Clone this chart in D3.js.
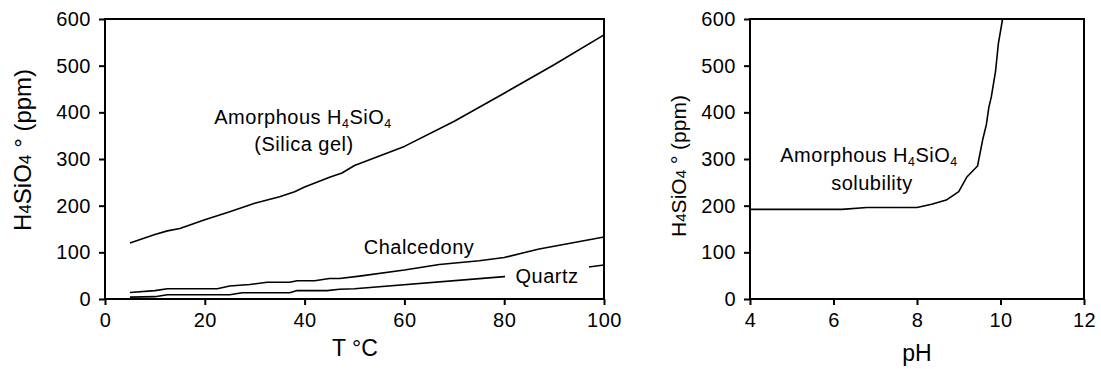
<!DOCTYPE html>
<html>
<head>
<meta charset="utf-8">
<script src="https://cdn.jsdelivr.net/npm/d3@7"></script>
<style>
  body { margin: 0; background: #fff; }
  text { font-family: "Liberation Sans", Arial, sans-serif; fill: #000; }
</style>
</head>
<body>
<script>
// Left panel: solubility vs temperature
var amorphT = [5, 10, 12.5, 15, 20, 25, 30, 35, 38, 40, 45, 47.5, 50, 60, 70, 80, 90, 100];
var amorphV = [120, 138, 146, 151, 170, 187, 205, 219, 230, 240, 261, 270, 286, 327, 381, 441, 502, 566];
var chalcT = [5, 10, 12.5, 22.5, 25, 29, 32.5, 37, 38.5, 42, 45, 47, 51, 60, 67, 75, 80, 87, 100];
var chalcV = [14, 18, 22, 22, 28, 31, 36, 36, 39, 39, 44, 44, 49, 62, 74, 82, 89, 107, 133];
var quartzT = [5, 10, 12.5, 25, 27.5, 37, 38.5, 44.5, 47, 50, 80, 90, 100];
var quartzV = [4, 5, 9, 9, 13.5, 13.5, 18, 18, 21, 22, 48, 59, 73];

// Right panel: amorphous silica solubility vs pH
var pH = [4, 6.2, 6.8, 8, 8.35, 8.7, 9, 9.2, 9.45, 9.58, 9.66, 9.72, 9.78, 9.88, 9.95, 10.05];
var silicaV = [192, 192, 196, 196, 203, 212, 230, 262, 285, 344, 373, 410, 433, 487, 548, 600];

var tempTicks = [0, 20, 40, 60, 80, 100];
var pHTicks = [4, 6, 8, 10, 12];
var ppmTicks = [0, 100, 200, 300, 400, 500, 600];

var W = 1101, H = 369;
var svg = d3.select("body").append("svg").attr("width", W).attr("height", H);

var y = d3.scaleLinear().domain([0, 600]).range([299, 19]);
var xT = d3.scaleLinear().domain([0, 100]).range([105, 604]);
var xP = d3.scaleLinear().domain([4, 12]).range([750, 1084]);

// draws frame + axes for one panel
function panel(x, xticks) {
    var g = svg.append("g");
    var r = x.range();
    g.append("g")
        .attr("transform", "translate(0,299)")
        .call(d3.axisBottom(x).tickValues(xticks).tickSize(6).tickSizeOuter(0).tickPadding(8))
        .call(function(a) { a.select(".domain").remove(); });
    g.append("g")
        .attr("transform", "translate(" + r[0] + ",0)")
        .call(d3.axisLeft(y).tickValues(ppmTicks).tickSize(6).tickSizeOuter(0).tickPadding(8))
        .call(function(a) { a.select(".domain").remove(); });
    g.selectAll(".tick line").attr("stroke", "#000").attr("stroke-width", 2);
    g.selectAll(".tick text")
        .style("font-size", "20px")
        .style("letter-spacing", "0.5px")
        .attr("fill", "#000");
    g.append("rect")
        .attr("x", r[0]).attr("y", 19)
        .attr("width", r[1] - r[0]).attr("height", 280)
        .attr("fill", "none").attr("stroke", "#000").attr("stroke-width", 2);
    return g;
}

panel(xT, tempTicks);
panel(xP, pHTicks);

function drawLine(x, xs, vs) {
    var line = d3.line()
        .x(function(d) { return x(d[0]); })
        .y(function(d) { return y(d[1]); });
    svg.append("path")
        .datum(d3.zip(xs, vs))
        .attr("d", line)
        .attr("fill", "none")
        .attr("stroke", "#000")
        .attr("stroke-width", 1.6)
        .attr("stroke-linejoin", "round");
}

drawLine(xT, amorphT, amorphV);
drawLine(xT, chalcT, chalcV);
drawLine(xT, quartzT, quartzV);
drawLine(xP, pH, silicaV);

// text with subscript 4s
function formula(sel, size) {
    sel.append("tspan").text("H");
    sel.append("tspan").text("4").attr("dy", 4).style("font-size", (size * 0.62) + "px");
    sel.append("tspan").text("SiO").attr("dy", -4);
    sel.append("tspan").text("4").attr("dy", 4).style("font-size", (size * 0.62) + "px");
}

function label(x0, y0, str, withFormula) {
    var t = svg.append("text")
        .attr("x", x0).attr("y", y0)
        .attr("text-anchor", "middle")
        .style("font-size", "20px")
        .style("letter-spacing", "0.5px");
    t.append("tspan").text(str);
    if (withFormula) formula(t, 20);
    return t;
}

label(303, 124, "Amorphous ", true);
label(304, 151, "(Silica gel)", false);
label(419, 254, "Chalcedony", false);

// quartz label sits on a white box over its line
svg.append("rect")
    .attr("x", 505).attr("y", 264).attr("width", 84).attr("height", 26)
    .attr("fill", "#fff");
label(547, 283, "Quartz", false);
// redraw frame edge the box touched
svg.append("line").attr("x1", 604).attr("x2", 604).attr("y1", 19).attr("y2", 299)
    .attr("stroke", "#000").attr("stroke-width", 2);

label(869, 162, "Amorphous ", true);
label(872, 190, "solubility", false);

// axis titles
function yTitle(cx, cy, size) {
    var t = svg.append("text")
        .attr("transform", "translate(" + cx + "," + cy + ") rotate(-90)")
        .attr("text-anchor", "middle")
        .style("font-size", size + "px");
    t.append("tspan").text("H");
    t.append("tspan").text("4").style("font-size", (size * 0.72) + "px");
    t.append("tspan").text("SiO");
    t.append("tspan").text("4").style("font-size", (size * 0.72) + "px");
    t.append("tspan").text(" \u00b0 (ppm)");
}
yTitle(31, 150, 24);
yTitle(686, 166, 21);

svg.append("text")
    .attr("x", 355).attr("y", 356)
    .attr("text-anchor", "middle")
    .style("font-size", "23px")
    .text("T \u00b0C");

svg.append("text")
    .attr("x", 917).attr("y", 361)
    .attr("text-anchor", "middle")
    .style("font-size", "23px")
    .text("pH");
</script>
</body>
</html>
